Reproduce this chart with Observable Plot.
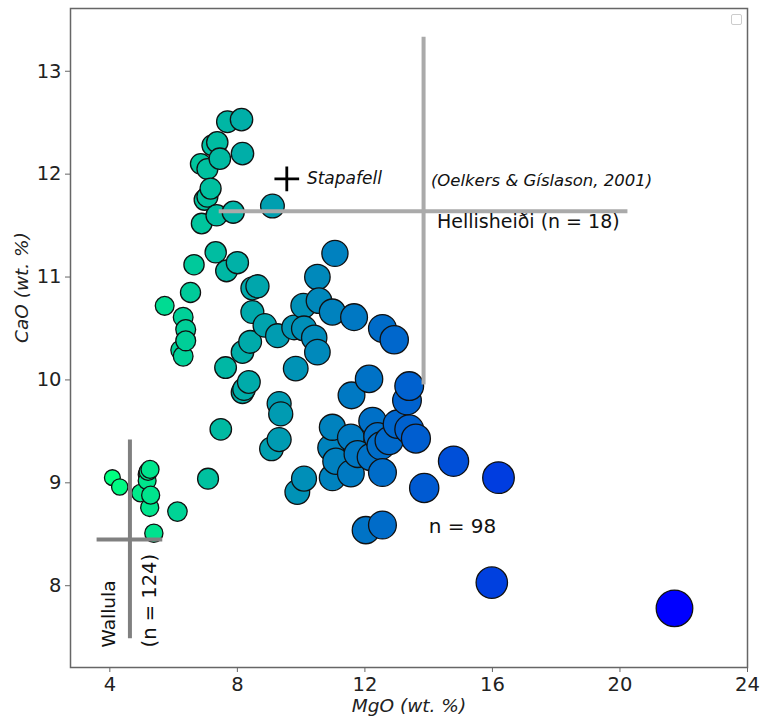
<!DOCTYPE html>
<html>
<head>
<meta charset="utf-8">
<script src="https://cdn.jsdelivr.net/npm/d3@7"></script>
<script src="https://cdn.jsdelivr.net/npm/@observablehq/plot@0.6"></script>
<style>
  html, body { margin: 0; padding: 0; background: #fff; }
  #wrap { position: relative; width: 760px; height: 724px; }
  #legendbox { position: absolute; left: 731px; top: 14px; width: 9px; height: 9px; border: 1px solid #ccc; border-radius: 2px; background: #fff; }
</style>
</head>
<body>
<div id="wrap"><div id="legendbox"></div></div>
<script>
// Scatter samples (n = 98)
const mgo = [7.69,8.13,7.37,7.22,8.16,7.45,6.85,7.06,7.16,7.06,6.97,9.10,7.87,7.35,6.88,
  11.06,7.32,6.64,8.00,7.66,10.51,8.63,8.47,6.53,5.72,6.30,6.38,6.38,6.22,6.30,
  8.47,10.07,10.56,10.98,11.66,12.55,12.92,8.86,9.26,9.78,10.09,10.41,10.51,8.40,8.16,
  7.63,9.83,8.36,8.21,8.16,9.31,9.36,7.48,9.31,9.07,12.13,11.58,10.98,11.56,10.93,
  11.09,10.98,11.56,11.77,12.24,12.50,12.55,10.09,9.88,7.08,6.12,12.03,12.55,
  4.08,4.31,5.26,5.20,5.17,5.17,4.96,5.28,5.25,5.38,
  13.39,13.32,13.02,13.39,13.60,12.76,12.19,12.40,14.78,16.19,13.86,15.98,21.71];
const cao = [12.51,12.53,12.31,12.28,12.20,12.15,12.10,12.05,11.86,11.78,11.75,11.69,11.63,11.60,11.52,
  11.23,11.24,11.12,11.14,11.06,11.00,10.91,10.89,10.85,10.72,10.61,10.49,10.38,10.29,10.23,
  10.66,10.72,10.77,10.66,10.61,10.50,10.39,10.53,10.43,10.51,10.50,10.41,10.27,10.37,10.27,
  10.12,10.11,9.98,9.91,9.88,9.77,9.67,9.52,9.42,9.33,10.01,9.85,9.54,9.44,9.34,
  9.21,9.05,9.09,9.28,9.60,9.36,9.10,9.04,8.91,9.04,8.72,8.54,8.59,
  9.05,8.96,9.13,9.11,9.08,9.02,8.90,8.88,8.76,8.51,
  9.94,9.80,9.57,9.52,9.43,9.41,9.25,9.45,9.21,9.05,8.95,8.03,7.78];

// Reference sites: mean ± spread
const siteNames = ["Hellisheiði", "Wallula"];
const siteMgO = [13.84, 4.63];
const siteMgOSd = [6.41, 1.03];
const siteCaO = [11.64, 8.45];
const siteCaOSd = [1.69, 0.965];
const siteColors = ["#aaaaaa", "#808080"];

// Stapafell
const stapMgO = [9.55];
const stapCaO = [11.955];

// Tick values
const xTicks = [4, 8, 12, 16, 20, 24];
const yTicks = [8, 9, 10, 11, 12, 13];

const pts = mgo.map((m, i) => ({mgo: m, cao: cao[i]})).sort((a, b) => a.mgo - b.mgo);
const sites = siteNames.map((n, i) => ({name: n, mgo: siteMgO[i], mSd: siteMgOSd[i], cao: siteCaO[i], cSd: siteCaOSd[i], color: siteColors[i]}));
const stap = stapMgO.map((m, i) => ({mgo: m, cao: stapCaO[i]}));

const notes = [
  {x: 10.18, y: 11.955, text: "Stapafell", size: 17, style: "italic", rotate: 0, anchor: "start"},
  {x: 14.07, y: 11.94, text: "(Oelkers & Gíslason, 2001)", size: 16.5, style: "italic", rotate: 0, anchor: "start"},
  {x: 14.26, y: 11.54, text: "Hellisheiði (n = 18)", size: 19, style: "normal", rotate: 0, anchor: "start"},
  {x: 14.0, y: 8.57, text: "n = 98", size: 20, style: "normal", rotate: 0, anchor: "start"},
  {x: 3.975, y: 7.40, text: "Wallula", size: 18.5, style: "normal", rotate: -90, anchor: "start"},
  {x: 5.25, y: 7.40, text: "(n = 124)", size: 19.5, style: "normal", rotate: -90, anchor: "start"}
];

const fmt = d => String(d);

const marks = [
  Plot.frame({stroke: "#666", strokeWidth: 1.5}),
  Plot.axisX({ticks: xTicks, tickFormat: fmt, tickSize: 5, tickPadding: 5, fontSize: 19.5, label: null, stroke: "#666", fill: "#222"}),
  Plot.axisY({ticks: yTicks, tickFormat: fmt, tickSize: 5, tickPadding: 4, fontSize: 19.5, label: null, stroke: "#666", fill: "#222"}),
  Plot.text(["MgO (wt. %)"], {frameAnchor: "bottom", dy: 39, fontSize: 18.5, fontStyle: "italic", lineAnchor: "middle", fill: "#222"}),
  Plot.text(["CaO (wt. %)"], {frameAnchor: "left", dx: -48, dy: 5, rotate: -90, fontSize: 18.5, fontStyle: "italic", lineAnchor: "middle", fill: "#222"}),
  Plot.dot(pts, {x: "mgo", y: "cao", r: "mgo", fill: "mgo", stroke: "#111", strokeWidth: 1.3, sort: null}),
  Plot.ruleY(sites, {y: "cao", x1: d => d.mgo - d.mSd, x2: d => d.mgo + d.mSd, stroke: "color", strokeWidth: 4}),
  Plot.ruleX(sites, {x: "mgo", y1: d => d.cao - d.cSd, y2: d => d.cao + d.cSd, stroke: "color", strokeWidth: 4}),
  Plot.dot(stap, {x: "mgo", y: "cao", symbol: "plus", r: 8, stroke: "#000", strokeWidth: 2.8})
];
for (const n of notes) {
  marks.push(Plot.text([n], {x: "x", y: "y", text: "text", fontSize: n.size, fontStyle: n.style, rotate: n.rotate, textAnchor: n.anchor, lineAnchor: "middle", fill: "#111"}));
}

const chart = Plot.plot({
  width: 760, height: 724,
  marginLeft: 70, marginRight: 13, marginTop: 8, marginBottom: 57,
  style: {fontFamily: "DejaVu Sans", background: "#fff", color: "#222"},
  x: {domain: [2.766, 24]},
  y: {domain: [7.205, 13.61]},
  r: {type: "sqrt", domain: [0, 21.71], range: [0, 18.3]},
  color: {type: "sqrt", domain: [4.08, 21.71], range: ["#00ff80", "#0000ff"], interpolate: "rgb"},
  marks
});
document.getElementById("wrap").prepend(chart);
</script>
</body>
</html>
